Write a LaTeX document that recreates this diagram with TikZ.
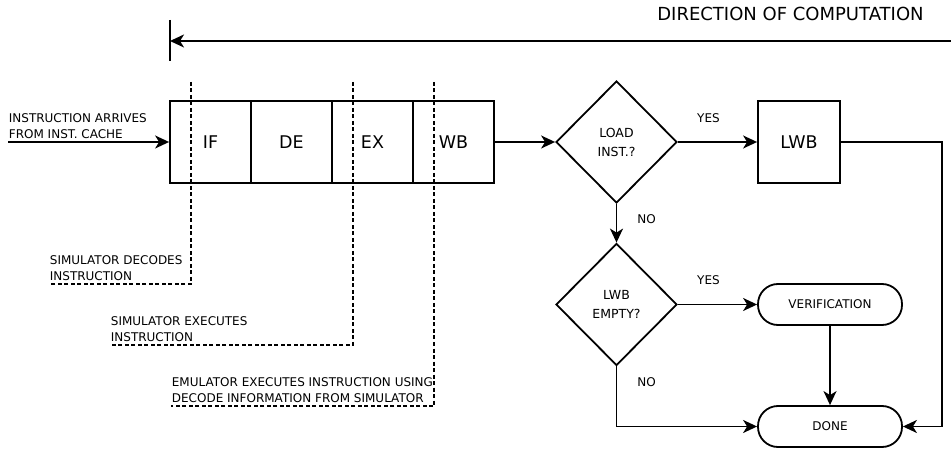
\documentclass[tikz,border=0pt]{standalone}
\usepackage{fontspec}
\setmainfont{DejaVu Sans}
\usetikzlibrary{arrows.meta,shapes.geometric}
\begin{document}
\begin{tikzpicture}[x=1pt,y=-1pt,
  line width=1.8pt,
  >={Stealth[length=14pt,width=13pt,inset=4pt]},
  stage/.style={draw,minimum width=81pt,minimum height=82pt,inner sep=0pt,font=\fontsize{17.5}{20}\selectfont},
  decision/.style={draw,diamond,aspect=1,minimum width=121pt,minimum height=122pt,inner sep=0pt,align=center,font=\fontsize{12.5}{19}\selectfont},
  terminal/.style={draw,rounded corners=20pt,minimum width=144pt,minimum height=41pt,inner sep=0pt,font=\fontsize{12}{14}\selectfont},
  small/.style={font=\fontsize{12}{16}\selectfont,align=left,inner sep=0pt},
  lbl/.style={font=\fontsize{12}{14}\selectfont,inner sep=0pt},
  dotline/.style={line width=2pt,dash pattern=on 4pt off 2.5pt}
]
\useasboundingbox (0,0) rectangle (951,449);

% direction of computation
\coordinate (tickT) at (170,20);
\coordinate (tickB) at (170,61);
\coordinate (dirR) at (951,41);
\coordinate (dirL) at (170,41);
\draw (tickT) -- (tickB);
\draw[->] (dirR) -- (dirL);
\node[font=\fontsize{18}{20}\selectfont,inner sep=0pt] (dirtext) at (790.5,14) {DIRECTION OF COMPUTATION};

% pipeline
\node[stage] (IF) at (210.5,142) {IF};
\node[stage] (DE) at (291.5,142) {DE};
\node[stage] (EX) at (372.5,142) {EX};
\node[stage] (WB) at (453.5,142) {WB};

% input
\coordinate (inL) at (8,142);
\draw[->] (inL) -- (IF.west);
\node[small,anchor=base west] (intext) at (8,138.5) {INSTRUCTION ARRIVES\\FROM INST. CACHE};

% dotted annotation lines
\coordinate (d1t) at (191,82);
\coordinate (d1b) at (191,284);
\coordinate (d1l) at (49,284);
\draw[dotline] (d1t) -- (d1b) -- (d1l);
\node[small,anchor=base west] (t1) at (49,280.5) {SIMULATOR DECODES\\INSTRUCTION};

\coordinate (d2t) at (353,82);
\coordinate (d2b) at (353,345);
\coordinate (d2l) at (110,345);
\draw[dotline] (d2t) -- (d2b) -- (d2l);
\node[small,anchor=base west] (t2) at (110,341.5) {SIMULATOR EXECUTES\\INSTRUCTION};

\coordinate (d3t) at (434,82);
\coordinate (d3b) at (434,406);
\coordinate (d3l) at (171,406);
\draw[dotline] (d3t) -- (d3b) -- (d3l);
\node[small,anchor=base west] (t3) at (171,402.5) {EMULATOR EXECUTES INSTRUCTION USING\\DECODE INFORMATION FROM SIMULATOR};

% flowchart
\node[decision] (load) at (616.5,142) {LOAD\\INST.?};
\node[draw,minimum width=82pt,minimum height=82pt,inner sep=0pt,font=\fontsize{17.5}{20}\selectfont] (LWB) at (799,142) {LWB};
\node[decision] (empty) at (616.5,304.5) {LWB\\EMPTY?};
\node[terminal] (verif) at (830,304.5) {VERIFICATION};
\node[terminal] (done) at (830,426.5) {DONE};

\draw[->] (WB.east) -- (load.west);
\draw[->] (load.east) -- (LWB.west);
\node[lbl] (yes1) at (708.5,118) {YES};
\draw[->] (load.south) -- (empty.north);
\node[lbl] (no1) at (646.5,219) {NO};
\draw[->] (empty.east) -- (verif.west);
\node[lbl] (yes2) at (708.5,280) {YES};
\draw[->] (verif.south) -- (done.north);
\coordinate (lwbc) at (942,142);
\draw[->] (LWB.east) -- (lwbc) |- (done.east);
\draw[->] (empty.south) |- (done.west);
\node[lbl] (no2) at (646.5,382) {NO};
\end{tikzpicture}
\end{document}
